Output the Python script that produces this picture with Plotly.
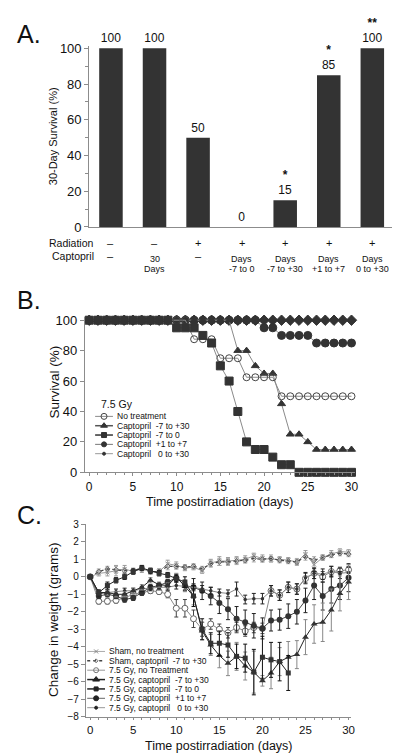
import plotly.graph_objects as go

W, H = 400, 754
def fx(p): return p / W
def fy(p): return 1 - p / H

FONT = "Liberation Sans, Arial, sans-serif"
DARK = "#333333"
AX = "#8c8c8c"

# ---------------- Panel A data ----------------
a_groups = [0, 1, 2, 3, 4, 5, 6]
a_survival = [100, 100, 50, 0, 15, 85, 100]
a_labels = ["100", "100", "50", "0", "<b>*</b><br>15", "<b>*</b><br>85", "<b>**</b><br>100"]
a_radiation = ["–", "–", "+", "+", "+", "+", "+"]
a_capt_line1 = ["–", "30", "–", "Days", "Days", "Days", "Days"]
a_capt_line2 = ["", "Days", "", "-7 to 0", "-7 to +30", "+1 to +7", "0 to +30"]

# ---------------- Panel B data ----------------
b_days = list(range(31))
b_none = [100]*12 + [87.5]*3 + [75]*3 + [62.5]*4 + [50]*9
b_m7_p30 = [100]*17 + [80, 80, 70, 65, 65, 45, 25, 25, 20] + [15]*5
b_m7_0 = [100]*10 + [95, 95, 95, 90, 85, 70, 60, 40, 20, 15, 15, 10, 5, 5] + [0]*7
b_p1_p7 = [100]*20 + [95, 95, 90, 90, 90, 90] + [85]*5
b_0_p30 = [100]*31
b_names = ["No treatment", "Captopril  -7 to +30", "Captopril  -7 to 0",
           "Captopril  +1 to +7", "Captopril   0 to +30"]

# ---------------- Panel C data ----------------
c_days = list(range(31))
c_sham_none = [0, 0.2, 0.25, 0.35, 0.45, 0.3, 0.45, 0.3, 0.3, 0.75, 0.65, 0.5, 0.55, 0.35, 0.8, 0.9,
               0.9, 0.95, 1.0, 1.2, 1.05, 1.0, 1.0, 0.95, 0.85, 1.3, 0.7, 1.1, 1.3, 1.45, 1.4]
c_sham_none_err = [0, 0.15, 0.2, 0.3, 0.2, 0.15, 0.2, 0.15, 0.15, 0.2, 0.2, 0.15, 0.15, 0.15, 0.2, 0.25,
                   0.2, 0.2, 0.2, 0.15, 0.2, 0.15, 0.15, 0.15, 0.15, 0.2, 0.25, 0.15, 0.2, 0.15, 0.15]
c_sham_capt = [0, 0.3, 0.45, 0.4, 0.35, 0.35, 0.5, 0.3, 0.3, 0.6, 0.6, 0.55, 0.6, 0.45, 0.75, 0.85,
               0.85, 0.9, 0.95, 1.05, 1.0, 1.05, 0.95, 0.9, 0.85, 1.15, 0.95, 1.1, 1.25, 1.35, 1.3]
c_sham_capt_err = [0, 0.15, 0.15, 0.2, 0.15, 0.15, 0.15, 0.15, 0.15, 0.2, 0.15, 0.15, 0.15, 0.15, 0.2, 0.2,
                   0.2, 0.2, 0.15, 0.2, 0.15, 0.2, 0.15, 0.15, 0.2, 0.2, 0.2, 0.15, 0.15, 0.15, 0.15]
c_gy_none = [0, -1.4, -1.4, -1.35, -1.2, -1.0, -0.9, -0.8, -0.85, -1.0, -1.8, -1.8, -2.4, -3.0, -2.7, -3.0,
             -3.2, -2.9, -3.1, -2.9, -2.95, -0.8, -1.05, -0.6, -0.7, -0.1, 0.2, 0.0, 0.3, 0.35, 0.4]
c_gy_none_err = [0, 0.15, 0.15, 0.15, 0.15, 0.15, 0.15, 0.15, 0.15, 0.2, 0.5, 0.5, 0.5, 0.4, 0.3, 0.3,
                 0.3, 0.3, 0.3, 0.3, 0.3, 0.3, 0.3, 0.3, 0.3, 0.3, 0.3, 0.3, 0.3, 0.2, 0.2]
c_m7_p30 = [0, -0.9, -0.9, -1.0, -1.0, -0.8, -0.6, -0.2, -0.45, -0.5, 0.0, -0.55, -1.1, -3.1, -3.9, -4.5,
            -4.95, -4.55, -5.1, -5.45, -5.95, -5.5, -4.85, -4.6, -4.45, -3.45, -2.7, -2.6, -1.9, -0.95, -0.3]
c_m7_p30_err = [0, 0.15, 0.15, 0.15, 0.15, 0.15, 0.15, 0.15, 0.15, 0.15, 0.2, 0.3, 0.5, 0.5, 0.6, 0.7,
                0.7, 0.8, 0.8, 1.2, 0.3, 0.9, 0.8, 0.9, 0.8, 1.0, 1.1, 1.1, 1.2, 1.0, 1.0]
c_m7_0 = [0, -0.9, -0.5, -0.2, 0.0, 0.3, 0.5, 0.35, 0.2, 0.1, -0.1, -0.3, -1.1, -3.0, -3.8, -3.8,
          -3.9, -4.55, -4.65, -5.45, -4.6, -4.75, -4.85, -5.5]
c_m7_0_err = [0, 0.15, 0.2, 0.15, 0.15, 0.15, 0.15, 0.15, 0.15, 0.15, 0.2, 0.3, 0.6, 0.6, 0.6, 0.7,
              0.7, 0.7, 0.8, 1.3, 1.2, 1.0, 1.1, 1.0]
c_p1_p7 = [0, -1.1, -1.0, -1.1, -1.3, -1.2, -0.9, -0.6, -0.5, -0.3, -0.05, -0.5, -0.6, -0.8, -1.1, -1.5,
           -1.85, -2.4, -2.6, -2.8, -2.95, -2.5, -2.45, -2.25, -2.0, -1.35, -0.5, -1.1, -0.7, -0.5, -0.05]
c_p1_p7_err = [0, 0.15, 0.15, 0.15, 0.15, 0.15, 0.15, 0.15, 0.15, 0.15, 0.2, 0.3, 0.5, 0.5, 0.5, 0.6,
               0.6, 0.7, 0.7, 0.7, 0.6, 0.6, 0.6, 0.7, 0.7, 0.7, 0.8, 0.8, 0.8, 0.8, 0.8]
c_0_p30 = [0, -1.0, -0.9, -0.85, -0.8, -0.8, -0.7, -0.65, -0.6, -0.6, -0.5, -0.55, -0.6, -0.7, -0.8, -0.9,
           -0.95, -0.7, -1.3, -1.25, -1.25, -0.8, -1.05, -0.6, -0.7, -0.05, 0.2, 0.15, 0.3, 0.2, 0.25]
c_0_p30_err = [0, 0.15, 0.15, 0.15, 0.15, 0.15, 0.15, 0.15, 0.15, 0.15, 0.2, 0.2, 0.2, 0.2, 0.2, 0.2,
               0.2, 0.4, 0.25, 0.3, 0.3, 0.3, 0.3, 0.3, 0.3, 0.3, 0.3, 0.3, 0.3, 0.3, 0.3]
c_names = ["Sham, no treatment", "Sham, captopril  -7 to +30", "7.5 Gy, no Treatment",
           "7.5 Gy, captopril  -7 to +30", "7.5 Gy, captopril  -7 to 0",
           "7.5 Gy, captopril  +1 to +7", "7.5 Gy, captopril   0 to +30"]

fig = go.Figure()

# ---------- Panel A ----------
fig.add_trace(go.Bar(x=a_groups, y=a_survival, marker=dict(color=DARK, line=dict(width=0)),
                     width=0.54, text=a_labels, textposition="outside", cliponaxis=False,
                     textfont=dict(size=12, color="#111", family=FONT),
                     xaxis="x", yaxis="y", showlegend=False))

# ---------- Panel B ----------
b_styles = [
    (b_0_p30, "diamond", 8, DARK, DARK),
    (b_p1_p7, "circle", 8, DARK, DARK),
    (b_m7_p30, "triangle-up", 7, DARK, DARK),
    (b_none, "circle-open", 7, "#444", "#444"),
    (b_m7_0, "square", 8, DARK, DARK),
]
for ys, sym, sz, col, lc in b_styles:
    fig.add_trace(go.Scatter(x=b_days, y=ys, mode="lines+markers",
                             line=dict(color="#8a8a8a", width=1),
                             marker=dict(symbol=sym, size=sz, color=col,
                                         line=dict(color=lc, width=1)),
                             cliponaxis=False, xaxis="x2", yaxis="y2", showlegend=False))

# ---------- Panel C ----------
c_styles = [
    (c_sham_none, c_sham_none_err, dict(color="#9a9a9a", width=1), dict(symbol="x-thin", size=4, color="#888", line=dict(color="#888", width=1)), "#999"),
    (c_sham_capt, c_sham_capt_err, dict(color="#444", width=1.2, dash="dot"), dict(symbol="diamond-open", size=4, color="#666", line=dict(color="#666", width=1)), "#aaa"),
    (c_gy_none, c_gy_none_err, dict(color="#8a8a8a", width=1), dict(symbol="circle", size=6, color="white", line=dict(color="#666", width=1)), "#444"),
    (c_p1_p7, c_p1_p7_err, dict(color="#444", width=1), dict(symbol="circle", size=6, color="#333", line=dict(width=0)), "#222"),
    (c_0_p30, c_0_p30_err, dict(color="#888", width=1), dict(symbol="circle", size=3.5, color="#333", line=dict(width=0)), "#222"),
    (c_m7_p30, c_m7_p30_err, dict(color="#222", width=1), dict(symbol="triangle-up", size=6, color="#333", line=dict(width=0)), "#888"),
    (c_m7_0, c_m7_0_err, dict(color="#222", width=1), dict(symbol="square", size=5, color="#333", line=dict(width=0)), "#111"),
]
for ys, es, ln, mk, ec in c_styles:
    fig.add_trace(go.Scatter(x=c_days[:len(ys)], y=ys, mode="lines+markers", line=ln, marker=mk,
                             error_y=dict(type="data", array=es, visible=True, color=ec,
                                          thickness=1, width=2),
                             cliponaxis=False, xaxis="x3", yaxis="y3", showlegend=False))

# ---------- manual legends (overlay axis in pixel units) ----------
LEG_B_X0, LEG_B_X1, LEG_B_Y0, LEG_B_DY = 88, 106, 410, 9.5
b_leg = [("circle-open", 6, "#444", "#8a8a8a"), ("triangle-up", 6, DARK, "#555"),
         ("square", 5, DARK, "#333"), ("circle", 5, DARK, "#777"), ("circle", 3, DARK, "#999")]
for i, (sym, sz, col, lc) in enumerate(b_leg):
    yy = LEG_B_Y0 + i * LEG_B_DY
    fig.add_trace(go.Scatter(x=[LEG_B_X0, LEG_B_X1], y=[yy, yy],
                             mode="lines", line=dict(color=lc, width=1.5 if i in (1, 2) else 1),
                             xaxis="x4", yaxis="y4", showlegend=False, hoverinfo="skip"))
    fig.add_trace(go.Scatter(x=[(LEG_B_X0 + LEG_B_X1) / 2], y=[yy], mode="markers",
                             marker=dict(symbol=sym, size=sz, color=col, line=dict(color=col, width=1)),
                             xaxis="x4", yaxis="y4", showlegend=False, hoverinfo="skip"))

LEG_C_X0, LEG_C_X1, LEG_C_Y0, LEG_C_DY = 80, 98, 649.5, 9.55
c_leg = [("x-thin", 4, "#888", dict(color="#aaa", width=1)),
         ("diamond-open", 3, "#666", dict(color="#444", width=1.5, dash="dot")),
         ("circle-open", 5, "#777", dict(color="#999", width=1)),
         ("triangle-up", 6, "#222", dict(color="#222", width=1.5)),
         ("square", 4, "#222", dict(color="#222", width=1.5)),
         ("circle", 5, "#222", dict(color="#666", width=1)),
         ("circle", 3, "#222", dict(color="#999", width=1))]
for i, (sym, sz, col, ln) in enumerate(c_leg):
    yy = LEG_C_Y0 + i * LEG_C_DY
    fig.add_trace(go.Scatter(x=[LEG_C_X0, LEG_C_X1], y=[yy, yy], mode="lines", line=ln,
                             xaxis="x4", yaxis="y4", showlegend=False, hoverinfo="skip"))
    fig.add_trace(go.Scatter(x=[(LEG_C_X0 + LEG_C_X1) / 2], y=[yy], mode="markers",
                             marker=dict(symbol=sym, size=sz, color=col, line=dict(color=col, width=1)),
                             xaxis="x4", yaxis="y4", showlegend=False, hoverinfo="skip"))

ann = []
def A(x, y, text, size, xanchor="center", **kw):
    d = dict(x=fx(x), y=fy(y), xref="paper", yref="paper", text=text, showarrow=False,
             xanchor=xanchor, yanchor="middle", font=dict(size=size, color="#111", family=FONT))
    d.update(kw)
    ann.append(d)

# panel letters
A(7, 20, "A.", 25, xanchor="left")
A(7, 291, "B.", 25, xanchor="left")
A(7, 510, "C.", 25, xanchor="left")

# panel A row labels
A(89, 233, "Radiation", 10.5, xanchor="right")
A(89, 246.5, "Captopril", 10.5, xanchor="right")
for g, r, c1, c2 in zip(a_groups, a_radiation, a_capt_line1, a_capt_line2):
    ann.append(dict(x=g, y=fy(233.5), xref="x", yref="paper", text=r, showarrow=False,
                    yanchor="middle", font=dict(size=11, color="#111", family=FONT)))
    if c2:
        ann.append(dict(x=g, y=fy(249.5), xref="x", yref="paper", text=c1, showarrow=False,
                        yanchor="middle", font=dict(size=9, color="#111", family=FONT)))
        ann.append(dict(x=g, y=fy(259.8), xref="x", yref="paper", text=c2, showarrow=False,
                        yanchor="middle", font=dict(size=9, color="#111", family=FONT)))
    else:
        ann.append(dict(x=g, y=fy(246.5), xref="x", yref="paper", text=c1, showarrow=False,
                        yanchor="middle", font=dict(size=11, color="#111", family=FONT)))

# axis titles (rotated)
A(45, 125, "30-Day Survival (%)", 11, textangle=-90)
A(46, 375, "Survival (%)", 13.5, textangle=-90)
A(46, 617, "Change in weight (grams)", 13.5, textangle=-90)
A(214, 497, "Time postirradiation (days)", 12.5)
A(213, 745.5, "Time postirradiation (days)", 12.5)

# legend texts
A(92, 397, "7.5 Gy", 10.5, xanchor="left")
for i, t in enumerate(b_names):
    A(LEG_B_X1 + 2, LEG_B_Y0 + i * LEG_B_DY, t, 8.5, xanchor="left")
for i, t in enumerate(c_names):
    A(LEG_C_X1 + 2.5, LEG_C_Y0 + i * LEG_C_DY, t, 8.5, xanchor="left")

common_ax = dict(showline=True, linecolor=AX, linewidth=1, ticks="outside", tickcolor=AX,
                 ticklen=4, showgrid=False, zeroline=False,
                 tickfont=dict(size=13, color="#111", family=FONT))
bottom_ax = {**common_ax, "ticklen": 3, "tickfont": dict(size=12, color="#111", family=FONT)}
bottom_c = {**common_ax, "ticklen": 2, "tickfont": dict(size=11.5, color="#111", family=FONT)}

a_top = 217 - 101.5 * 1.82
fig.update_layout(
    width=W, height=H, margin=dict(l=0, r=0, t=0, b=0),
    paper_bgcolor="white", plot_bgcolor="rgba(0,0,0,0)", showlegend=False,
    font=dict(family=FONT, color="#111"),
    xaxis=dict(domain=[fx(82), fx(390)], range=[-0.5, 6.5], showline=True, linecolor=AX,
               showticklabels=False, ticks="", showgrid=False, zeroline=False, anchor="y"),
    yaxis=dict(domain=[fy(217), fy(a_top)], range=[0, 101.5], tickvals=[0, 20, 40, 60, 80, 100],
               minor=dict(tickvals=[10, 30, 50, 70, 90], ticks="outside", ticklen=3, tickcolor=AX),
               anchor="x", **common_ax),
    xaxis2=dict(domain=[fx(77.6), fx(350.5)], range=[-0.5, 30.4], tickvals=[0, 5, 10, 15, 20, 25, 30],
                minor=dict(dtick=1, ticks="outside", ticklen=2, tickcolor=AX), anchor="y2", **bottom_ax),
    yaxis2=dict(domain=[fy(467), fy(308.9)], range=[0, 102], tickvals=[0, 20, 40, 60, 80, 100],
                anchor="x2", **common_ax),
    xaxis3=dict(domain=[fx(78.65), fx(346.6)], range=[-0.5, 30.3], tickvals=[0, 5, 10, 15, 20, 25, 30],
                minor=dict(dtick=1, ticks="outside", ticklen=2, tickcolor=AX), anchor="y3", **bottom_c),
    yaxis3=dict(domain=[fy(716), fy(520)], range=[-8, 3], tickvals=list(range(-8, 4)),
                anchor="x3", **{**common_ax, "tickfont": dict(size=10, color="#111", family=FONT)}),
    xaxis4=dict(domain=[0, 1], range=[0, W], visible=False, anchor="y4", fixedrange=True),
    yaxis4=dict(domain=[0, 1], range=[H, 0], visible=False, anchor="x4", fixedrange=True),
    annotations=ann,
)

fig.write_html("out.html")
